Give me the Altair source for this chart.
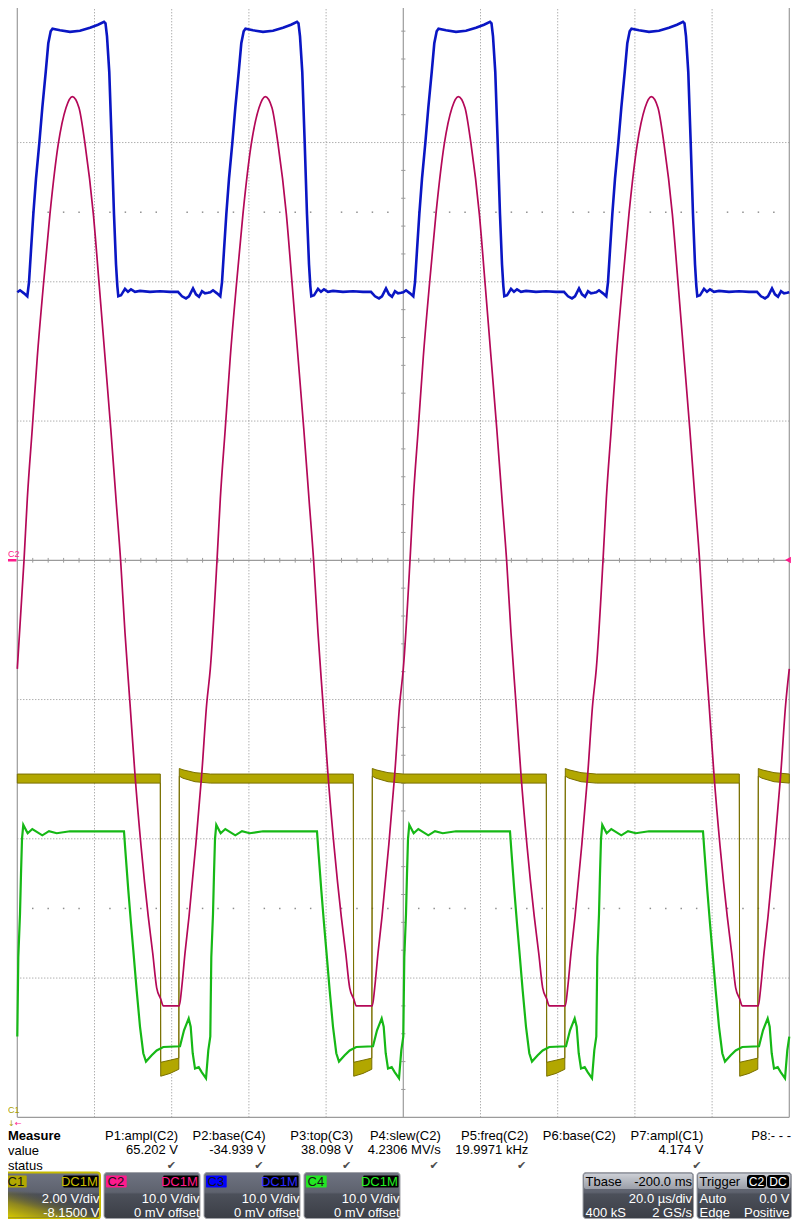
import altair as alt
import pandas as pd

MARGIN = 8
def px(v):
    return v - MARGIN

W, H = 784, 1211
FONT = "Liberation Sans"

# ---------------- acquisition settings ----------------
CYCLE_STARTS_US = [0.0, 50.0, 100.0, 150.0, 200.0]   # 19.997 kHz -> 50 us period
SCREEN_US = [0.0, 200.0]                               # 20 us/div x 10 div
V_PER_DIV = {"C1": 2.0, "C2": 10.0, "C3": 10.0, "C4": 10.0}
OFFSET_V = {"C1": -8.15, "C2": 0.0, "C3": 0.0, "C4": 0.0}

c2_t = [0, 1.74, 2.59, 3.89, 5.18, 6.74, 8.47, 10.62, 12.62, 14.25, 15.98, 17.54, 19.69, 21.24,
        22.72, 24.20, 25.57, 26.79, 27.90, 29.20, 30.49, 32.05, 33.94, 35.08, 36.11, 37.15, 37.82,
        41.97, 42.59, 43.45, 44.48, 46.22, 47.77, 49.07]
c2_v = [-7.8, 0.0, 4.4, 9.5, 14.6, 19.7, 24.9, 29.9, 32.5, 33.3, 32.5, 29.9, 24.9, 19.7,
        14.6, 9.5, 4.4, -0.1, -5.2, -10.3, -15.4, -20.5, -25.6, -28.2, -30.7, -31.5, -32.0,
        -32.0, -30.7, -28.2, -25.6, -20.5, -15.4, -10.3]

c3_t = [0, 0.70, 1.74, 2.59, 3.03, 3.55, 4.15, 4.84, 5.70, 6.48, 7.36, 8.03, 8.65, 9.12, 11.06,
        13.65, 16.24, 18.83, 20.91, 22.46, 22.85, 23.24, 23.83, 24.46, 25.05, 25.57, 25.91, 26.17,
        26.87, 27.90, 28.68, 29.46, 30.49, 31.79, 34.38, 36.97, 39.56, 41.63, 42.67, 43.70, 44.48,
        45.52, 46.29, 47.07, 47.85, 48.63, 49.40]
c3_v = [19.25, 19.39, 19.17, 18.96, 19.96, 22.26, 24.85, 27.39, 29.95, 32.50, 35.06, 37.13, 37.99,
        38.17, 38.06, 37.95, 38.03, 38.24, 38.46, 38.67, 38.56, 37.63, 35.06, 29.95, 24.85, 21.26,
        19.71, 18.96, 19.03, 19.50, 19.28, 19.46, 19.28, 19.35, 19.28, 19.32, 19.28, 19.28, 18.96,
        18.81, 18.96, 19.53, 19.10, 18.92, 19.32, 19.17, 19.21]

c4_t = [0, 0.26, 0.70, 0.96, 1.22, 1.55, 2.69, 3.89, 6.48, 8.21, 10.21, 13.65, 27.64, 27.98,
        28.76, 29.46, 30.05, 30.93, 31.79, 32.64, 33.34, 34.82, 36.11, 37.82, 42.15, 43.19, 44.40,
        44.92, 45.44, 46.04, 47.00, 47.77, 48.89, 49.48]
c4_v = [-34.2, -28.5, -25.4, -22.5, -20.0, -19.0, -19.6, -19.3, -19.75, -19.45, -19.6, -19.46,
        -19.46, -20.8, -23.7, -26.1, -28.0, -30.9, -33.5, -35.4, -36.0, -35.55, -35.2, -34.95,
        -34.9, -33.75, -32.9, -33.5, -35.4, -36.5, -36.4, -36.75, -37.2, -35.2]

# C1 is drawn as a noise band: upper / lower envelope
c1_t = [0.0, 37.05, 37.15, 39.56, 41.84, 41.97, 42.93, 46.04]
c1_hi = [5.08, 5.08, 0.94, 0.97, 1.00, 5.16, 5.14, 5.10]
c1_lo = [4.95, 4.95, 0.74, 0.78, 0.84, 5.05, 5.02, 4.97]

# ---------------- graticule ----------------
grid_t_us = [0, 20, 40, 60, 80, 100, 120, 140, 160, 180, 200]
grid_div = [-4, -3, -2, -1, 0, 1, 2, 3, 4]

# ---------------- measurement table ----------------
meas_names = ["P1:ampl(C2)", "P2:base(C4)", "P3:top(C3)", "P4:slew(C2)", "P5:freq(C2)",
              "P6:base(C2)", "P7:ampl(C1)", "P8:- - -"]
meas_values = ["65.202 V", "-34.939 V", "38.098 V", "4.2306 MV/s", "19.9971 kHz", "", "4.174 V", ""]
meas_status = ["\u2714", "\u2714", "\u2714", "\u2714", "\u2714", "", "\u2714", ""]
row_labels = ["Measure", "value", "status"]

# ---------------- channel descriptors ----------------
ch_names = ["C1", "C2", "C3", "C4"]
ch_coupling = ["DC1M", "DC1M", "DC1M", "DC1M"]
ch_vdiv_txt = ["2.00 V/div", "10.0 V/div", "10.0 V/div", "10.0 V/div"]
ch_offset_txt = ["-8.1500 V", "0 mV offset", "0 mV offset", "0 mV offset"]

TRACE_COL = {"C1_fill": "#b2a700", "C1_edge": "#7a7000", "C2": "#b40858", "C3": "#0a16c4", "C4": "#16b816"}
TAG_COL = ["#b3a800", "#ff1a8c", "#0000ff", "#22e622"]
COUP_COL = ["#c8bd00", "#ff1a8c", "#2a2aff", "#22ee22"]
BORDER_COL = ["#c6ba00", "#a0a2a8", "#a0a2a8", "#a0a2a8"]
BORDER_W = [2.0, 1.0, 1.0, 1.0]

# panel rows (window pixels)
Y_HEAD, Y_VAL, Y_STAT = 1140, 1154, 1168.5
BOX_TOP, BOX_BOT = 1172.5, 1218.5
Y_R1, Y_R2, Y_R3 = 1185.5, 1202.5, 1216.5


def tile(ch, t_list, cols):
    rows = []
    for start in CYCLE_STARTS_US:
        for j, t in enumerate(t_list):
            tt = start + t
            if tt <= SCREEN_US[1] + 1e-6:
                r = {"t": tt}
                for name, vals in cols.items():
                    r[name] = (vals[j] + OFFSET_V[ch]) / V_PER_DIV[ch]
                rows.append(r)
    return pd.DataFrame(rows)


T_SCALE = alt.Scale(domain=SCREEN_US, range=[px(17.3), px(789.3)], nice=False, zero=False)
D_SCALE = alt.Scale(domain=[-4, 4], range=[px(1117.3), px(3.3)], nice=False, zero=False)
GRID = "#8e8e8e"
SOLID = "#9b9b9b"

layers = []

# ---- graticule ----
inner_t = [t for t in grid_t_us if t not in (0, 100, 200)]
edge_t = [t for t in grid_t_us if t in (0, 100, 200)]
inner_d = [d for d in grid_div if d not in (-4, 0, 4)]
edge_d = [d for d in grid_div if d in (-4, 0, 4)]


def vrules(ts, **kw):
    df = pd.DataFrame({"t": ts, "d0": -4.0, "d1": 4.0})
    return alt.Chart(df).mark_rule(**kw).encode(
        x=alt.X("t:Q", scale=T_SCALE, axis=None),
        y=alt.Y("d0:Q", scale=D_SCALE, axis=None), y2="d1:Q")


def hrules(ds, **kw):
    df = pd.DataFrame({"d": ds, "t0": SCREEN_US[0], "t1": SCREEN_US[1]})
    return alt.Chart(df).mark_rule(**kw).encode(
        y=alt.Y("d:Q", scale=D_SCALE, axis=None),
        x=alt.X("t0:Q", scale=T_SCALE, axis=None), x2="t1:Q")


layers.append(vrules(inner_t, color=GRID, strokeDash=[1, 2], strokeWidth=1))
layers.append(hrules(inner_d, color=GRID, strokeDash=[1, 2], strokeWidth=1))
layers.append(vrules(edge_t, color=SOLID, strokeWidth=1.2))
layers.append(hrules(edge_d, color=SOLID, strokeWidth=1.2))

minor_t = [4.0 * k for k in range(1, 50) if k % 5 != 0]
minor_d = [0.2 * k for k in range(-19, 20) if k % 5 != 0]
tick_h = pd.DataFrame({"t": minor_t, "d0": -0.017, "d1": 0.017})
layers.append(alt.Chart(tick_h).mark_rule(color=SOLID, strokeWidth=1).encode(
    x=alt.X("t:Q", scale=T_SCALE, axis=None),
    y=alt.Y("d0:Q", scale=D_SCALE, axis=None), y2="d1:Q"))
tick_v = pd.DataFrame({"d": minor_d, "t0": 99.45, "t1": 100.55})
layers.append(alt.Chart(tick_v).mark_rule(color=SOLID, strokeWidth=1).encode(
    y=alt.Y("d:Q", scale=D_SCALE, axis=None),
    x=alt.X("t0:Q", scale=T_SCALE, axis=None), x2="t1:Q"))
dots = pd.DataFrame([{"t": t, "d": d} for d in (-2.5, 2.5) for t in minor_t])
layers.append(alt.Chart(dots).mark_square(size=2.2, color=GRID, opacity=1).encode(
    x=alt.X("t:Q", scale=T_SCALE, axis=None), y=alt.Y("d:Q", scale=D_SCALE, axis=None)))

# ---- traces ----
c1_df = tile("C1", c1_t, {"hi": c1_hi, "lo": c1_lo})
layers.append(alt.Chart(c1_df).mark_area(
    fill=TRACE_COL["C1_fill"], stroke=TRACE_COL["C1_edge"], strokeWidth=1, opacity=1,
    fillOpacity=1).encode(
    x=alt.X("t:Q", scale=T_SCALE, axis=None),
    y=alt.Y("hi:Q", scale=D_SCALE, axis=None), y2="lo:Q"))

for ch, tl, vl, sw, interp in [("C4", c4_t, c4_v, 2.2, "linear"),
                                ("C3", c3_t, c3_v, 2.6, "linear"),
                                ("C2", c2_t, c2_v, 1.7, "monotone")]:
    df = tile(ch, tl, {"d": vl})
    layers.append(alt.Chart(df).mark_line(color=TRACE_COL[ch], strokeWidth=sw, interpolate=interp).encode(
        x=alt.X("t:Q", scale=T_SCALE, axis=None),
        y=alt.Y("d:Q", scale=D_SCALE, axis=None)))

# ---- small screen markers ----
ONE = pd.DataFrame({"a": [0]})


def vtext(s, x, y, **kw):
    kw.setdefault("font", FONT)
    kw.setdefault("baseline", "alphabetic")
    return alt.Chart(ONE).mark_text(text=s, **kw).encode(x=alt.value(px(x)), y=alt.value(px(y)))


def vrect(x1, x2, y1, y2, **kw):
    return alt.Chart(ONE).mark_rect(**kw).encode(
        x=alt.value(px(x1)), x2=alt.value(px(x2)), y=alt.value(px(y1)), y2=alt.value(px(y2)))


layers.append(vtext("C2", 8, 556.5, align="left", fontSize=9, color="#ff1a8c"))
layers.append(vrect(8, 16.5, 559, 561.5, fill="#ff1a8c"))
layers.append(alt.Chart(ONE).mark_point(shape="triangle-left", filled=True, size=45, color="#ff1a8c", opacity=1)
              .encode(x=alt.value(px(788)), y=alt.value(px(560))))
layers.append(vtext("C1", 8, 1112.5, align="left", fontSize=9, color="#a89e00"))
layers.append(vtext("\u2193", 8, 1126, align="left", fontSize=8, color="#a89e00", font="DejaVu Sans"))
layers.append(vtext("\u2190", 15, 1126, align="left", fontSize=8, color="#ff1a8c", font="DejaVu Sans"))

# ---- measurement table ----
meas_df = pd.DataFrame({"col": list(range(len(meas_names))), "name": meas_names,
                        "value": meas_values, "status": meas_status})
COL_SCALE = alt.Scale(domain=[0, 7], range=[px(178), px(791)], nice=False, zero=False)
for field, ybase, fnt, size, color, dx in [("name", Y_HEAD, FONT, 13, "#000000", 0),
                                          ("value", Y_VAL, FONT, 13, "#000000", 0),
                                          ("status", Y_STAT, "DejaVu Sans", 11, "#4d4d4d", -2)]:
    layers.append(alt.Chart(meas_df).mark_text(align="right", baseline="alphabetic", font=fnt,
                                               fontSize=size, color=color, dx=dx).encode(
        x=alt.X("col:Q", scale=COL_SCALE, axis=None), y=alt.value(px(ybase)), text=f"{field}:N"))

row_df = pd.DataFrame({"row": [0, 1, 2], "label": row_labels})
ROW_SCALE = alt.Scale(domain=[0, 2], range=[px(Y_HEAD), px(Y_STAT + 1.5)], nice=False, zero=False)
layers.append(alt.Chart(row_df).transform_filter("datum.row == 0").mark_text(
    align="left", baseline="alphabetic", font=FONT, fontSize=13, fontWeight="bold", color="#000").encode(
    x=alt.value(0), y=alt.Y("row:Q", scale=ROW_SCALE, axis=None), text="label:N"))
layers.append(alt.Chart(row_df).transform_filter("datum.row > 0").mark_text(
    align="left", baseline="alphabetic", font=FONT, fontSize=13, color="#000").encode(
    x=alt.value(0), y=alt.Y("row:Q", scale=ROW_SCALE, axis=None), text="label:N"))

# ---- channel boxes ----
ch_df = pd.DataFrame({"i": list(range(4)), "name": ch_names, "coup": ch_coupling,
                      "vdiv": ch_vdiv_txt, "off": ch_offset_txt, "tag": TAG_COL,
                      "coupcol": COUP_COL, "border": BORDER_COL, "bw": BORDER_W})
BOX_SCALE = alt.Scale(domain=[0, 4], range=[px(4), px(404)], nice=False, zero=False)


def grad(stops, x1=0, y1=0, x2=0, y2=1):
    return alt.LinearGradient(gradient="linear", x1=x1, y1=y1, x2=x2, y2=y2,
                              stops=[alt.GradientStop(offset=o, color=c) for o, c in stops])


BOX_GRAD = grad([(0, "#6e7381"), (0.43, "#5e626e"), (0.47, "#4c505a"), (1, "#3b3e46")])

base = alt.Chart(ch_df)


def bx(expr):
    return base.transform_calculate(bx=expr)


layers.append(bx("datum.i").transform_calculate(bx2="datum.i + 0.96").mark_rect(
    cornerRadius=3, fill=BOX_GRAD).encode(
    x=alt.X("bx:Q", scale=BOX_SCALE, axis=None), x2="bx2:Q",
    y=alt.value(px(BOX_TOP)), y2=alt.value(px(BOX_BOT)),
    stroke=alt.Stroke("border:N", scale=None), strokeWidth=alt.StrokeWidth("bw:Q", scale=None)))

# C1 is the selected channel: olive glow
layers.append(bx("datum.i + 0.01").transform_filter("datum.i == 0").transform_calculate(
    bx2="datum.i + 0.95").mark_rect(
    cornerRadius=2,
    fill=grad([(0, "#d8cb00"), (0.35, "#8f8720"), (0.75, "rgba(70,72,78,0)"), (1, "rgba(70,72,78,0)")],
              x1=0, y1=1, x2=0.9, y2=0.1)).encode(
    x=alt.X("bx:Q", scale=BOX_SCALE, axis=None), x2="bx2:Q",
    y=alt.value(px(BOX_TOP + 19)), y2=alt.value(px(BOX_BOT - 1))))

# name tag
layers.append(bx("datum.i + 0.02").transform_calculate(bx2="datum.i + 0.227").mark_rect(cornerRadius=1).encode(
    x=alt.X("bx:Q", scale=BOX_SCALE, axis=None), x2="bx2:Q",
    y=alt.value(px(BOX_TOP + 3)), y2=alt.value(px(BOX_TOP + 15)), fill=alt.Fill("tag:N", scale=None)))
layers.append(bx("datum.i + 0.035").mark_text(align="left", baseline="alphabetic", font=FONT,
                                              fontSize=13, color="#151515").encode(
    x=alt.X("bx:Q", scale=BOX_SCALE, axis=None), y=alt.value(px(Y_R1)), text="name:N"))
# coupling tag
layers.append(bx("datum.i + 0.593").transform_calculate(bx2="datum.i + 0.945").mark_rect(
    cornerRadius=1, fill="#000000").encode(
    x=alt.X("bx:Q", scale=BOX_SCALE, axis=None), x2="bx2:Q",
    y=alt.value(px(BOX_TOP + 3)), y2=alt.value(px(BOX_TOP + 15))))
layers.append(bx("datum.i + 0.938").mark_text(align="right", baseline="alphabetic", font=FONT,
                                              fontSize=13).encode(
    x=alt.X("bx:Q", scale=BOX_SCALE, axis=None), y=alt.value(px(Y_R1)), text="coup:N",
    color=alt.Color("coupcol:N", scale=None)))
for field, yb in [("vdiv", Y_R2), ("off", Y_R3)]:
    layers.append(bx("datum.i + 0.955").mark_text(align="right", baseline="alphabetic", font=FONT,
                                                  fontSize=13, color="#ffffff").encode(
        x=alt.X("bx:Q", scale=BOX_SCALE, axis=None), y=alt.value(px(yb)), text=f"{field}:N"))

# ---- timebase & trigger boxes ----
HEAD_GRAD = grad([(0, "#cdd0d6"), (1, "#9a9ea8")])
for x1, x2 in [(583, 693.5), (697, 791.5)]:
    layers.append(vrect(x1, x2, BOX_TOP, BOX_BOT, cornerRadius=3, fill=BOX_GRAD, stroke="#a0a2a8", strokeWidth=1))
    layers.append(vrect(x1 + 1, x2 - 1, BOX_TOP + 1, BOX_TOP + 16.5, cornerRadius=2, fill=HEAD_GRAD))

layers.append(vtext("Tbase", 585.5, Y_R1, align="left", fontSize=13, color="#000"))
layers.append(vtext("-200.0 ms", 692, Y_R1, align="right", fontSize=13, color="#000"))
layers.append(vtext("20.0 \u00b5s/div", 692, Y_R2, align="right", fontSize=13, color="#fff"))
layers.append(vtext("400 kS", 585.5, Y_R3, align="left", fontSize=13, color="#fff"))
layers.append(vtext("2 GS/s", 692, Y_R3, align="right", fontSize=13, color="#fff"))

layers.append(vtext("Trigger", 699.5, Y_R1, align="left", fontSize=13, color="#000"))
layers.append(vrect(747, 766, BOX_TOP + 2.5, BOX_TOP + 15.5, cornerRadius=3, fill="#000"))
layers.append(vrect(767, 789, BOX_TOP + 2.5, BOX_TOP + 15.5, cornerRadius=3, fill="#000"))
layers.append(vtext("C2", 756.5, Y_R1, align="center", fontSize=12, color="#fff"))
layers.append(vtext("DC", 778, Y_R1, align="center", fontSize=12, color="#fff"))
layers.append(vtext("Auto", 699.5, Y_R2, align="left", fontSize=13, color="#fff"))
layers.append(vtext("0.0 V", 789.5, Y_R2, align="right", fontSize=13, color="#fff"))
layers.append(vtext("Edge", 699.5, Y_R3, align="left", fontSize=13, color="#fff"))
layers.append(vtext("Positive", 789.5, Y_R3, align="right", fontSize=13, color="#fff"))

chart = alt.layer(*layers).properties(
    width=W, height=H, padding=0, background="white",
    autosize=alt.AutoSizeParams(type="none"),
).resolve_scale(x="independent", y="independent").configure_view(stroke=None)

chart.save("out.html", embed_options={"renderer": "svg", "actions": False})
